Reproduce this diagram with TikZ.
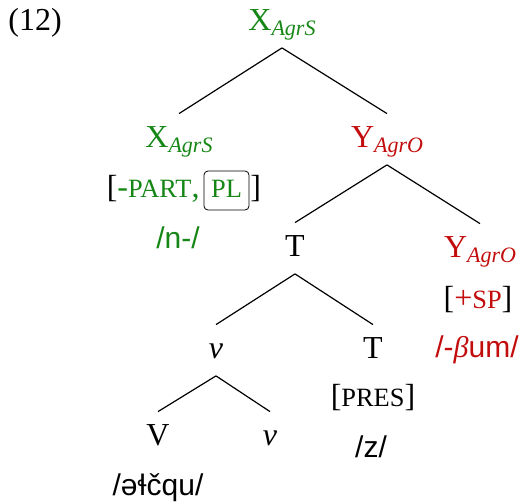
\documentclass[tikz,border=0pt]{standalone}
\usepackage{fontspec}
\setmainfont{Liberation Serif}
\newfontfamily\phon{Liberation Sans}
\definecolor{agrS}{RGB}{22,135,22}
\definecolor{agrO}{RGB}{195,12,12}
\newcommand\fsc[1]{{\fontsize{13.2}{15}\selectfont #1}}
\newcommand\sbs[1]{\raisebox{-2.5pt}{\fontsize{11}{13}\selectfont\itshape #1}}
\begin{document}
\begin{tikzpicture}[x=0.5pt,y=-0.5pt,
  font=\fontsize{16}{19}\selectfont,
  cat/.style={anchor=base,inner sep=0pt,text height=16.5pt,text depth=8.75pt},
  lbl/.style={anchor=base,inner sep=0pt},
  phonf/.style={lbl,font={\phon\fontsize{15}{18}\selectfont}},
  br/.style={line width=0.6pt}]
\useasboundingbox (0,0) rectangle (526,504);
\node[lbl, anchor=base west] (ex) at (8,30) {(12)};
% categories
\node[cat, text=agrS] (r) at (282,30) {X\sbs{AgrS}};
\node[cat, text=agrS] (xl) at (179,147) {X\sbs{AgrS}};
\node[cat, text=agrO] (ym) at (387,147) {Y\sbs{AgrO}};
\node[cat] (tl) at (295,256) {T};
\node[cat, text=agrO] (yr) at (480,257) {Y\sbs{AgrO}};
\node[cat] (vm) at (216,358) {\textit{v}};
\node[cat] (tr) at (373,358) {T};
\node[cat] (V) at (158,445) {V};
\node[cat] (vr) at (270,445) {\textit{v}};
% features and exponents
\node[lbl, anchor=base east] (xf1) at (200,197) {[\textcolor{agrS}{-\fsc{PART},}};
\node[lbl, draw, rounded corners=2pt, text=agrS, text height=8.5pt, text depth=2pt, inner ysep=4.5pt, minimum width=22.5pt] (xpl) at (226.5,197) {\fsc{PL}};
\node[lbl, anchor=base west] (xf2) at (250,197) {]};
\node[phonf, text=agrS] (xp) at (178,248) {/n-/};
\node[lbl] (yf) at (478,308) {[\textcolor{agrO}{+\fsc{SP}}]};
\node[phonf, text=agrO] (yp) at (477,357) {/-{\rmfamily\itshape β}um/};
\node[lbl] (tf) at (373,406) {[\fsc{PRES}]};
\node[phonf] (tp) at (371,457) {/z/};
\node[phonf] (Vp) at (158,495) {/əɬčqu/};
% branches
\draw[br] (r.south) -- (xl.north);
\draw[br] (r.south) -- (ym.north);
\draw[br] (ym.south) -- (tl.north);
\draw[br] (ym.south) -- (yr.north);
\draw[br] (tl.south) -- (vm.north);
\draw[br] (tl.south) -- (tr.north);
\draw[br] (vm.south) -- (V.north);
\draw[br] (vm.south) -- (vr.north);
\end{tikzpicture}
\end{document}
